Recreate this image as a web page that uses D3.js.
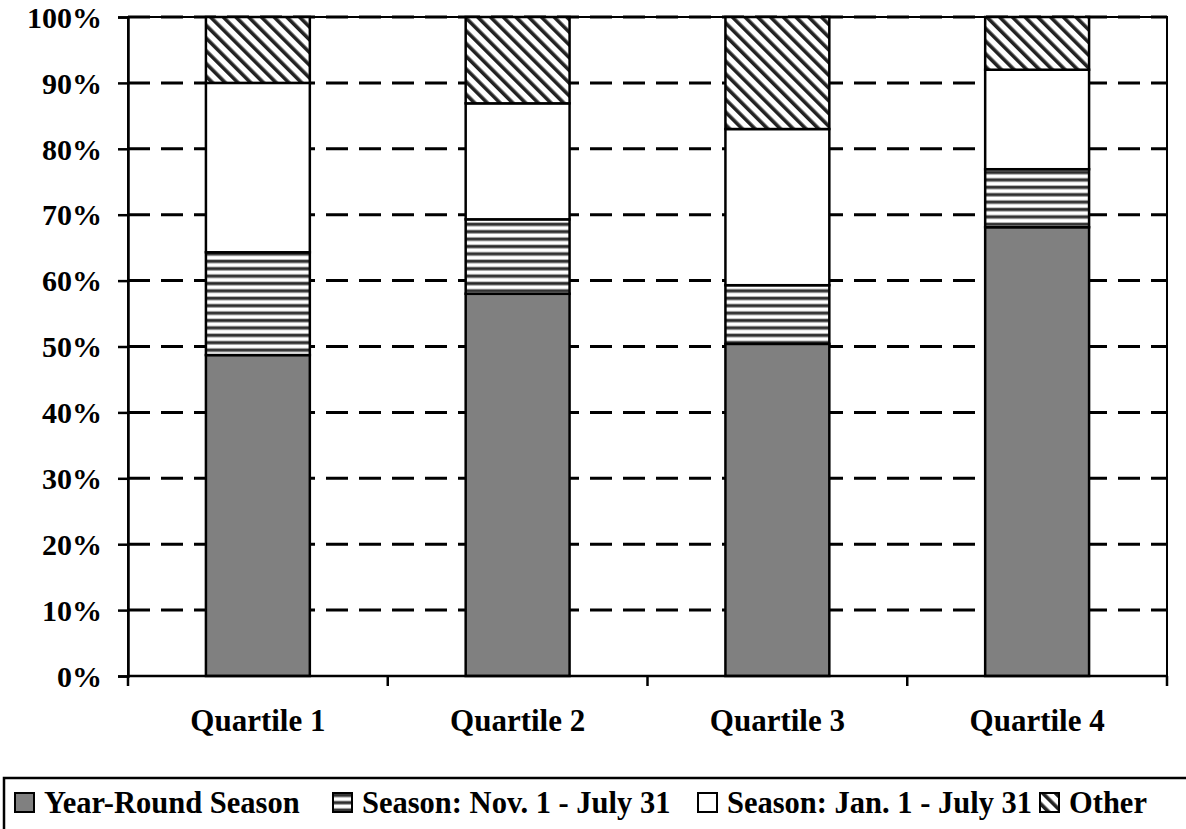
<!DOCTYPE html>
<html>
<head>
<meta charset="utf-8">
<script src="https://cdn.jsdelivr.net/npm/d3@7/dist/d3.min.js"></script>
<style>
  html, body { margin: 0; padding: 0; background: #fff; }
  svg { display: block; }
</style>
</head>
<body>
<svg id="chart" width="1186" height="829"></svg>
<script>
// Season type shares by quartile (percent of each bar)
const categories = ["Quartile 1", "Quartile 2", "Quartile 3", "Quartile 4"];
const seriesNames = ["Year-Round Season", "Season: Nov. 1 - July 31", "Season: Jan. 1 - July 31", "Other"];
const yearRound = [48.7, 58.0, 50.4, 68.1];
const novJuly   = [15.6, 11.3, 8.9, 8.8];
const janJuly   = [25.7, 17.6, 23.7, 15.1];
const other     = [10.0, 13.1, 17.0, 8.0];
const yTicks = [0, 10, 20, 30, 40, 50, 60, 70, 80, 90, 100];
const yTickLabels = ["0%", "10%", "20%", "30%", "40%", "50%", "60%", "70%", "80%", "90%", "100%"];

const FONT = "'Liberation Serif', serif";
const styleText = (sel, size) => sel
  .style("font-family", FONT).style("font-size", size + "px")
  .style("font-weight", "bold").attr("fill", "#000");

const rows = categories.map((c, i) => ({
  cat: c,
  [seriesNames[0]]: yearRound[i],
  [seriesNames[1]]: novJuly[i],
  [seriesNames[2]]: janJuly[i],
  [seriesNames[3]]: other[i]
}));

const svg = d3.select("#chart");
const plot = { left: 128, right: 1167, top: 17, bottom: 676 };

// Fill patterns
const defs = svg.append("defs");
const hp = defs.append("pattern")
  .attr("id", "hstripe").attr("patternUnits", "userSpaceOnUse")
  .attr("width", 10).attr("height", 7.4);
hp.append("rect").attr("width", 10).attr("height", 7.4).attr("fill", "#fff");
hp.append("rect").attr("y", 0).attr("width", 10).attr("height", 1).attr("fill", "#bbb");
hp.append("rect").attr("y", 1).attr("width", 10).attr("height", 2.6).attr("fill", "#2a2a2a");
hp.append("rect").attr("y", 3.6).attr("width", 10).attr("height", 1).attr("fill", "#aaa");

const dp = defs.append("pattern")
  .attr("id", "dstripe").attr("patternUnits", "userSpaceOnUse")
  .attr("width", 9).attr("height", 9)
  .attr("patternTransform", "rotate(-45)");
dp.append("rect").attr("width", 9).attr("height", 9).attr("fill", "#fff");
dp.append("rect").attr("x", 0).attr("width", 3.6).attr("height", 9).attr("fill", "#222");

const fills = ["#808080", "url(#hstripe)", "#ffffff", "url(#dstripe)"];

// Scales
const x = d3.scaleBand().domain(categories)
  .range([plot.left, plot.right]).paddingInner(0.6).paddingOuter(0.3);
const y = d3.scaleLinear().domain([0, 100]).range([plot.bottom, plot.top]);

// Plot border
svg.append("rect")
  .attr("x", plot.left).attr("y", plot.top)
  .attr("width", plot.right - plot.left).attr("height", plot.bottom - plot.top)
  .attr("fill", "none").attr("stroke", "#000").attr("stroke-width", 2);

// Dashed gridlines
svg.append("g").selectAll("line").data(yTicks.filter(d => d > 0)).join("line")
  .attr("x1", plot.left).attr("x2", plot.right)
  .attr("y1", d => y(d)).attr("y2", d => y(d))
  .attr("stroke", "#000").attr("stroke-width", 3)
  .attr("stroke-dasharray", "22,11");

// Stacked bars
const stack = d3.stack().keys(seriesNames);
const layers = stack(rows);
svg.append("g").selectAll("g").data(layers).join("g")
  .attr("fill", (d, i) => fills[i])
  .selectAll("rect").data(d => d).join("rect")
  .attr("x", d => x(d.data.cat))
  .attr("width", x.bandwidth())
  .attr("y", d => y(d[1]))
  .attr("height", d => y(d[0]) - y(d[1]))
  .attr("stroke", "#000").attr("stroke-width", 2.5);

// Y axis
const yAxis = svg.append("g")
  .attr("transform", `translate(${plot.left},0)`)
  .call(d3.axisLeft(y).tickValues(yTicks).tickFormat((d, i) => yTickLabels[i]).tickSize(10).tickPadding(16));
yAxis.select(".domain").attr("stroke-width", 2.5);
yAxis.selectAll(".tick line").attr("stroke-width", 2.5);
yAxis.selectAll("text").attr("dy", "0.34em").call(styleText, 30);

// X axis: ticks at category boundaries, labels at band centres
const bounds = d3.range(categories.length + 1).map(i => plot.left + i * x.step());
const xg = svg.append("g");
xg.append("line")
  .attr("x1", plot.left).attr("x2", plot.right)
  .attr("y1", plot.bottom).attr("y2", plot.bottom)
  .attr("stroke", "#000").attr("stroke-width", 2.5);
xg.selectAll("line.tk").data(bounds).join("line").attr("class", "tk")
  .attr("x1", d => d).attr("x2", d => d)
  .attr("y1", plot.bottom).attr("y2", plot.bottom + 10)
  .attr("stroke", "#000").attr("stroke-width", 2.5);
xg.selectAll("text").data(categories).join("text")
  .attr("x", d => x(d) + x.bandwidth() / 2)
  .attr("y", 731)
  .attr("text-anchor", "middle")
  .call(styleText, 31)
  .text(d => d);

// Legend
const lg = svg.append("g");
lg.append("rect")
  .attr("x", 4).attr("y", 778).attr("width", 1200).attr("height", 80)
  .attr("fill", "#fff").attr("stroke", "#000").attr("stroke-width", 2.5);
const legendX = [15, 333, 698, 1040];
const items = lg.selectAll("g.item").data(seriesNames).join("g").attr("class", "item")
  .attr("transform", (d, i) => `translate(${legendX[i]},793)`);
items.append("rect")
  .attr("width", 19).attr("height", 19)
  .attr("fill", (d, i) => fills[i])
  .attr("stroke", "#000").attr("stroke-width", 2);
items.append("text")
  .attr("x", 29).attr("y", 20)
  .call(styleText, 30.5)
  .text(d => d);
</script>
</body>
</html>
